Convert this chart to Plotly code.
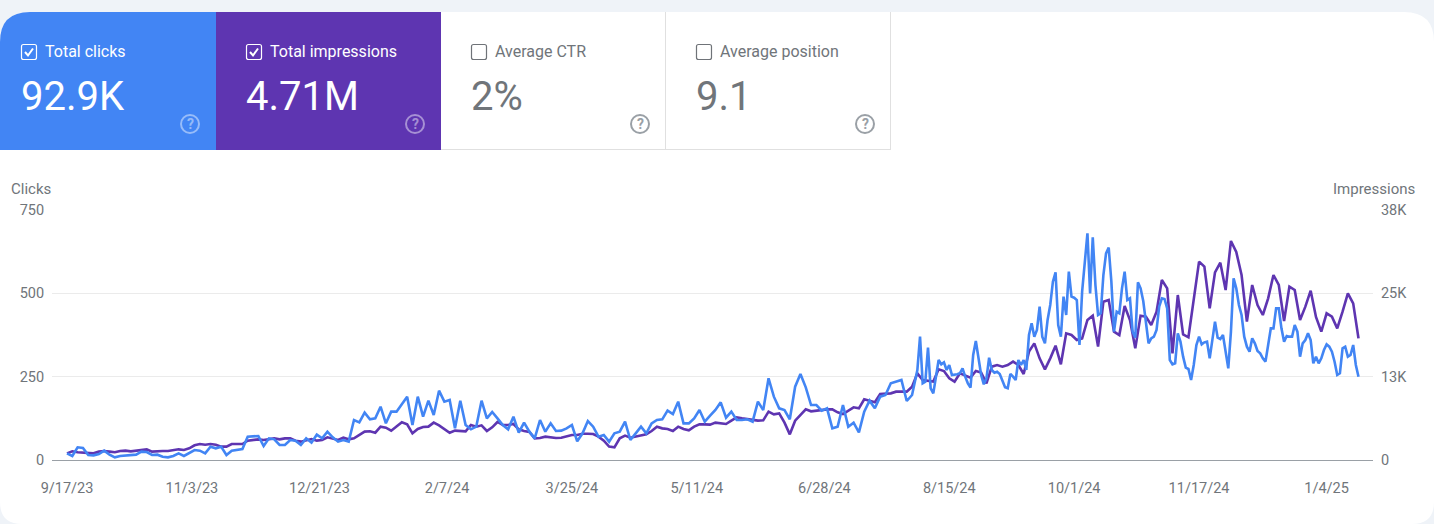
import pandas as pd
import plotly.graph_objects as go

START = pd.Timestamp("2023-09-17")

# Clicks: every second day up to day 318, then daily from day 320
clicks_two_day = [
    20,12,38,36,15,14,18,28,16,8,12,13,13,16,25,24,15,16,10,8,12,20,12,20,30,28,20,40,35,40,15,28,30,33,70,72,72,42,65,62,
    45,45,60,58,45,65,52,76,65,85,68,55,60,55,120,113,
    142,122,125,160,110,145,145,167,190,105,190,130,178,135,208,175,180,95,178,105,92,100,178,125,144,125,105,92,130,82,
    112,85,65,120,85,110,87,88,95,105,56,80,117,100,70,75,55,80,85,115,60,80,100,80,110,120,
    122,148,138,175,110,110,125,150,115,133,150,173,127,145,120,120,122,115,175,150,245,190,155,150,122,220,258,218,165,165,
    148,155,95,100,165,100,112,83,145,178,155,190,195,230,235,240,177,195,
]
clicks_daily = [
    270,370,230,235,337,215,200,255,300,287,293,270,285,255,255,257,260,275,250,230,217,315,357,310,255,227,245,307,270,262,
    265,258,237,218,215,258,250,240,300,285,300,270,375,410,370,390,460,370,350,420,465,535,563,405,370,490,435,565,490,487,
    480,345,505,605,680,500,668,525,435,440,555,620,637,535,385,445,440,515,565,480,485,385,367,533,515,477,410,350,365,370,
    390,460,485,483,455,300,287,290,380,355,310,277,273,240,285,345,370,347,353,355,305,355,415,367,363,375,325,275,385,545,
    515,465,435,370,340,325,365,350,327,320,305,295,345,395,395,455,455,395,355,372,370,370,405,385,310,350,360,380,360,290,
    310,290,305,330,347,340,325,295,255,260,335,340,310,315,345,285,250,
]
# Impressions: every second day
impressions = [
    1010,1320,1170,1110,1010,1010,1270,1370,1270,1170,1370,1420,1320,1420,1620,1620,1270,1370,1370,1370,1470,1620,1520,1770,2230,2430,2330,2430,2330,2030,
    2030,2430,2430,2430,2940,3040,3140,3040,3190,3290,3140,3290,3290,2940,2790,3040,3190,2940,3040,3450,3290,3040,3390,3140,3290,3800,
    4310,4360,4150,5070,4910,4460,5070,5730,5420,4050,4710,5020,5070,5680,5270,4660,4150,4460,4410,4360,5320,5070,5270,4410,4970,5780,5320,5320,5470,4660,
    4410,4260,3290,3340,3550,3450,3340,3390,3650,3800,3800,4000,4000,3950,3550,2940,2030,1930,3290,3700,3390,3550,3800,3900,4410,5070,
    4810,4710,4410,5070,4710,4510,5070,5420,5420,5370,5680,5570,5470,5980,6490,6330,6230,6080,5980,6030,7350,6940,7090,5680,3900,5980,6790,7700,7400,7500,
    7650,7700,7700,7250,6990,7500,8010,7850,9220,9020,8770,10030,10030,10130,10390,10390,10390,11150,
    13170,12160,12060,11910,13780,13530,12410,11910,13170,12820,12520,13530,13280,11650,14190,14440,14190,14440,14950,14440,13070,16470,17730,15450,13780,15450,17380,14540,19250,19000,
    18240,18490,21280,21940,17230,24070,24320,19510,19000,23410,21280,16970,
    21940,21790,20520,22550,27360,26090,16210,25080,19100,18650,24070,30150,29390,23050,28530,30000,25840,33290,31620,28120,21030,26600,23560,22040,24570,28120,26600,21130,26350,25840,
    21280,23310,25740,21740,19510,22290,21790,20010,22550,25330,23810,18490,
]
x_tick_labels = ["9/17/23","11/3/23","12/21/23","2/7/24","3/25/24","5/11/24","6/28/24","8/15/24","10/1/24","11/17/24","1/4/25"]
x_tick_days = [0,47,95,143,190,237,285,332,379,426,474]
clicks_ticks = [0,250,500,750]
impressions_ticks = [0,12667,25333,38000]
impressions_tick_labels = ["0","13K","25K","38K"]

cards = [
    ("Total clicks", "92.9K"),
    ("Total impressions", "4.71M"),
    ("Average CTR", "2%"),
    ("Average position", "9.1"),
]

W, H = 1434, 524
BLUE, PURPLE = "#4285f4", "#5e35b1"
GREY = "#70757a"
FONT = "Roboto, sans-serif"

def fx(p): return p / W
def fy(p): return 1 - p / H
def path(cmds):
    out = []
    for c in cmds:
        if c[0] == "Z":
            out.append("Z")
        else:
            nums = c[1:]
            pts = " ".join(f"{fx(nums[i]):.5f},{fy(nums[i+1]):.5f}" for i in range(0, len(nums), 2))
            out.append(f"{c[0]} {pts}")
    return " ".join(out)

clicks_x = [START + pd.Timedelta(days=2*i) for i in range(len(clicks_two_day))] + \
           [START + pd.Timedelta(days=320+i) for i in range(len(clicks_daily))]
clicks = clicks_two_day + clicks_daily
imp_x = [START + pd.Timedelta(days=2*i) for i in range(len(impressions))]

fig = go.Figure()
fig.add_trace(go.Scatter(x=imp_x, y=impressions, yaxis="y2", mode="lines", name="Impressions",
                         line=dict(color=PURPLE, width=2.6), hoverinfo="skip"))
fig.add_trace(go.Scatter(x=clicks_x, y=clicks, yaxis="y", mode="lines", name="Clicks",
                         line=dict(color=BLUE, width=2.6), hoverinfo="skip"))

shapes = []
R = 30
shapes.append(dict(type="path", xref="paper", yref="paper", layer="below", line_width=0, fillcolor="#ffffff",
    path=path([("M",0,12+R),("Q",0,12,R,12),("L",W-R,12),("Q",W,12,W,12+R),("L",W,H-R+8),("Q",W,H,W-R+8,H),("L",R-8,H),("Q",0,H,0,H-R+8),("Z",)])))
shapes.append(dict(type="path", xref="paper", yref="paper", layer="below", line_width=0, fillcolor=BLUE,
    path=path([("M",0,12+R),("Q",0,12,R,12),("L",216,12),("L",216,150),("L",0,150),("Z",)])))
shapes.append(dict(type="rect", xref="paper", yref="paper", layer="below", line_width=0, fillcolor=PURPLE,
    x0=fx(216), x1=fx(441), y0=fy(150), y1=fy(12)))
for (x0, y0, x1, y1) in [(441,149.5,891,149.5), (665.5,12,665.5,150), (890.5,12,890.5,150)]:
    shapes.append(dict(type="line", xref="paper", yref="paper", layer="below",
                       line=dict(color="#e0e0e0", width=1),
                       x0=fx(x0), x1=fx(x1), y0=fy(y0), y1=fy(y1)))

annotations = []
def text(px, py, s, size, color, anchor="left"):
    annotations.append(dict(xref="paper", yref="paper", x=fx(px), y=fy(py), text=s, showarrow=False,
                            xanchor=anchor, yanchor="middle", xshift=0, yshift=0, borderpad=0,
                            font=dict(family=FONT, size=size, color=color)))

card_left = [0, 225, 450, 675]
for i, (title, value) in enumerate(cards):
    L = card_left[i]
    checked = i < 2
    c_txt = "#ffffff" if checked else GREY
    box = "#ffffff" if checked else "#6f7378"
    a, b, t, u, r = L+21.5, L+36.5, 44.5, 59.5, 2
    shapes.append(dict(type="path", xref="paper", yref="paper", layer="above",
                       path=path([("M",a+r,t),("L",b-r,t),("Q",b,t,b,t+r),("L",b,u-r),("Q",b,u,b-r,u),
                                  ("L",a+r,u),("Q",a,u,a,u-r),("L",a,t+r),("Q",a,t,a+r,t),("Z",)]),
                       line=dict(color=box, width=1.2), fillcolor="rgba(0,0,0,0)"))
    if checked:
        shapes.append(dict(type="path", xref="paper", yref="paper", layer="above",
                           path=path([("M",L+25,52),("L",L+28,55.5),("L",L+33,48.5)]),
                           line=dict(color="#ffffff", width=2), fillcolor="rgba(0,0,0,0)"))
    text(L+43.5, 51.5, title, 16, c_txt)
    text(L+20, 97, value, 40, c_txt)
    help_col = "rgba(255,255,255,0.45)" if checked else "#9aa0a6"
    cx = L + 190
    shapes.append(dict(type="circle", xref="paper", yref="paper", layer="above",
                       x0=fx(cx-9), x1=fx(cx+9), y0=fy(133), y1=fy(115),
                       line=dict(color=help_col, width=2), fillcolor="rgba(0,0,0,0)"))
    text(cx, 124, "<b>?</b>", 14, help_col, anchor="center")

text(10, 189, "Clicks", 15, GREY)
text(1416, 189, "Impressions", 15, GREY, anchor="right")

PX_PER_DAY = (1358.5 - 67) / 486
x_lo = START + pd.Timedelta(days=(52 - 67) / PX_PER_DAY)
x_hi = START + pd.Timedelta(days=(1373 - 67) / PX_PER_DAY)

fig.update_layout(
    width=W, height=H, autosize=False,
    margin=dict(l=0, r=0, t=0, b=0, pad=0, autoexpand=False),
    paper_bgcolor="#eff3f8", plot_bgcolor="rgba(0,0,0,0)",
    showlegend=False, shapes=shapes, annotations=annotations,
    font=dict(family=FONT, size=14, color=GREY),
    xaxis=dict(domain=[fx(52), fx(1373)], type="date", range=[x_lo, x_hi],
               tickmode="array", tickvals=[START + pd.Timedelta(days=d) for d in x_tick_days],
               ticktext=x_tick_labels, showgrid=False, zeroline=False,
               showline=True, linecolor="#9aa0a6", linewidth=1,
               ticks="outside", ticklen=15, tickcolor="rgba(0,0,0,0)",
               tickfont=dict(family=FONT, size=14.5, color=GREY), anchor="y2"),
    yaxis=dict(domain=[fy(460), fy(210)], range=[0, 750], overlaying="y2", side="left",
               tickmode="array", tickvals=clicks_ticks, ticktext=[str(v) for v in clicks_ticks],
               showgrid=True, gridcolor="#ebebeb", gridwidth=1, zeroline=False,
               ticks="outside", ticklen=4, tickcolor="rgba(0,0,0,0)",
               tickfont=dict(family=FONT, size=14.5, color=GREY)),
    yaxis2=dict(domain=[fy(460), fy(210)], range=[0, 38000], side="right", anchor="x",
                tickmode="array", tickvals=impressions_ticks, ticktext=impressions_tick_labels,
                showgrid=False, zeroline=False,
                ticks="outside", ticklen=4, tickcolor="rgba(0,0,0,0)",
                tickfont=dict(family=FONT, size=14.5, color=GREY)),
)

post = "document.body.style.margin='0';document.body.style.overflow='hidden';"
fig.write_html("out.html", config={"displayModeBar": False}, post_script=post)
